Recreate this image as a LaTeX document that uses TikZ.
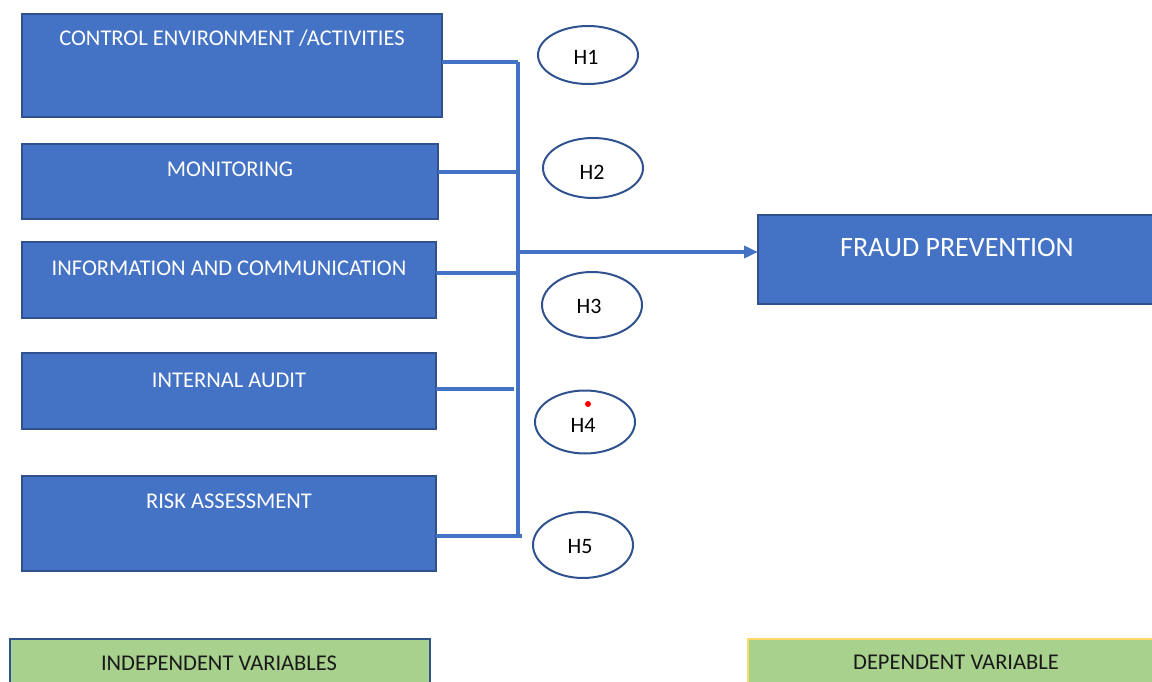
\documentclass[tikz,border=0pt]{standalone}
\usepackage{fontspec}
\setmainfont{Carlito}
\usetikzlibrary{arrows.meta,shapes.geometric}
\definecolor{boxblue}{HTML}{4472C4}
\definecolor{edgeblue}{HTML}{2F528F}
\definecolor{lgreen}{HTML}{A9D18E}
\definecolor{lyellow}{HTML}{FFD966}
\begin{document}
\begin{tikzpicture}[x=1pt,y=-1pt,
  bluebox/.style={draw=edgeblue, fill=boxblue, line width=1.6pt, anchor=north west, inner sep=0pt, outer sep=0pt},
  boxtext/.style={text=white, font=\fontsize{22.5}{27}\selectfont, inner sep=0pt},
  bigtext/.style={text=white, font=\fontsize{28}{33}\selectfont, inner sep=0pt},
  hyp/.style={draw=edgeblue, ellipse, line width=2pt, minimum width=100pt, minimum height=60pt, inner sep=0pt, font=\fontsize{22}{26}\selectfont},
  hyptext/.style={inner sep=0pt, font=\fontsize{22}{26}\selectfont},
  conn/.style={draw=boxblue, line width=3.6pt},
  legendbox/.style={fill=lgreen, line width=1.6pt, anchor=north west, inner sep=0pt},
  legendtext/.style={font=\fontsize{22.5}{27}\selectfont, text=black!90, inner sep=0pt}]
\useasboundingbox (0,0) rectangle (1152,682);

% independent variable boxes
\node[bluebox, minimum width=420pt, minimum height=103pt] (b1) at (22,14) {};
\node[bluebox, minimum width=416pt, minimum height=75pt] (b2) at (22,144) {};
\node[bluebox, minimum width=414pt, minimum height=76pt] (b3) at (22,242) {};
\node[bluebox, minimum width=414pt, minimum height=76pt] (b4) at (22,353) {};
\node[bluebox, minimum width=414pt, minimum height=95pt] (b5) at (22,476) {};
\node[bluebox, minimum width=400pt, minimum height=89pt] (fp) at (758,215) {};

\node[boxtext] (t1) at (232,38) {CONTROL ENVIRONMENT /ACTIVITIES};
\node[boxtext] (t2) at (230,169) {MONITORING};
\node[boxtext] (t3) at (229,268) {INFORMATION AND COMMUNICATION};
\node[boxtext] (t4) at (229,380) {INTERNAL AUDIT};
\node[boxtext] (t5) at (229,501) {RISK ASSESSMENT};
\node[bigtext] (t6) at (957,248) {FRAUD PREVENTION};

% spine
\coordinate (stop) at (518,62);
\coordinate (sbot) at (518,538);
\coordinate (sarrow) at (518,252);
\draw[conn] (stop) -- (sbot);
\draw[conn] (b1.east |- 0,62) -- (stop);
\draw[conn] (b2.east |- 0,172) -- (518,172);
\draw[conn] (b3.east |- 0,273) -- (518,273);
\draw[conn] (b4.east |- 0,389) -- (514,389);
\draw[conn] (b5.east |- 0,536) -- (522,536);
\draw[conn, -{Triangle[length=14pt,width=12pt]}] (sarrow) -- (fp.west |- 0,252);

% hypotheses
\node[hyp, minimum height=58pt] (h1) at (588,55) {};
\node[hyp] (h2) at (593,168) {};
\node[hyp, minimum height=66pt] (h3) at (592,305) {};
\node[hyp, minimum height=63pt] (h4) at (585,422) {};
\node[hyp, minimum height=66pt] (h5) at (583,545) {};
\node[hyptext] (l1) at (586,57) {H1};
\node[hyptext] (l2) at (592,172) {H2};
\node[hyptext] (l3) at (589,306) {H3};
\node[hyptext] (l4) at (583,425) {H4};
\node[hyptext] (l5) at (580,547) {H5};
\fill[red] (588,404) circle (3pt);

% legend
\node[legendbox, draw=edgeblue, minimum width=420pt, minimum height=44pt] (iv) at (9,638) {};
\node[legendbox, draw=lyellow, minimum width=410pt, minimum height=50pt] (dv) at (747,638) {};
\node[legendtext] (ivt) at (219,663) {INDEPENDENT VARIABLES};
\node[legendtext] (dvt) at (956,662) {DEPENDENT VARIABLE};
\end{tikzpicture}
\end{document}
